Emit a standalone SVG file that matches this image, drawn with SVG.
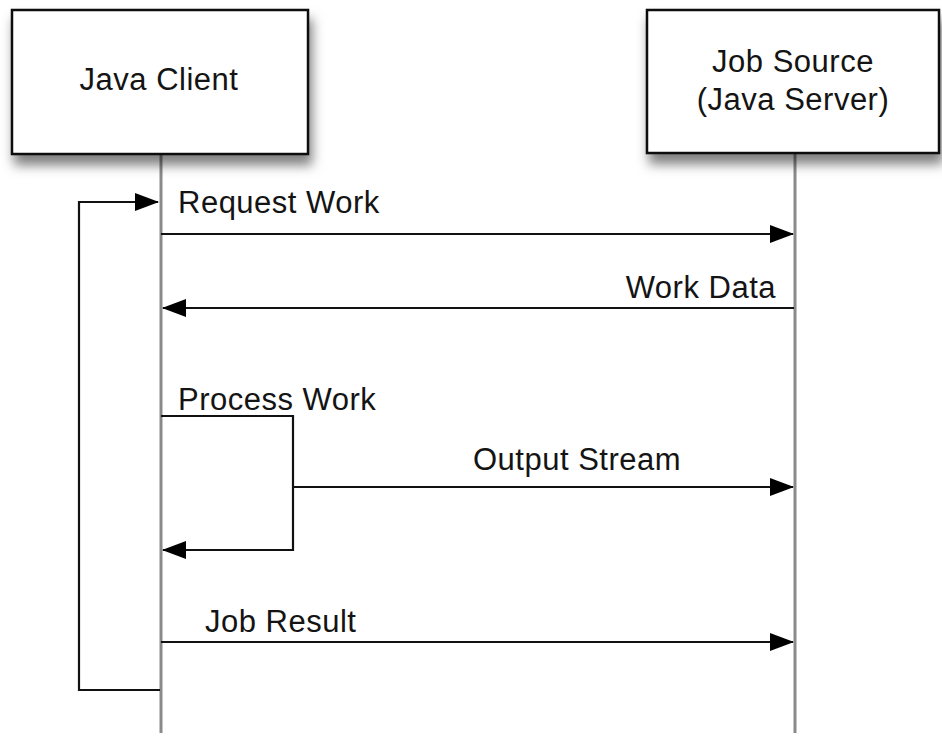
<svg xmlns="http://www.w3.org/2000/svg" width="942" height="737" viewBox="0 0 942 737">
  <defs>
    <filter id="shadow" x="-10%" y="-10%" width="130%" height="140%">
      <feDropShadow dx="3" dy="10" stdDeviation="6" flood-color="#000" flood-opacity="0.5"/>
    </filter>
    <marker id="arrow" viewBox="0 0 24 20" refX="23" refY="10" markerWidth="24" markerHeight="20" markerUnits="userSpaceOnUse" orient="auto">
      <path d="M0,1 L24,10 L0,19 Z" fill="#000"/>
    </marker>
  </defs>
  <style>
    .box { fill: #fff; stroke: #111; stroke-width: 2.5; }
    .life { stroke: #8a8a8a; stroke-width: 3; fill: none; }
    .msg { stroke: #111; stroke-width: 2.2; fill: none; }
    .arr { marker-end: url(#arrow); }
    text { font-family: "Liberation Sans", Arial, sans-serif; font-size: 31px; letter-spacing: 0.5px; fill: #141414; }
    .mid { text-anchor: middle; }
    .end { text-anchor: end; }
  </style>

  <rect width="942" height="737" fill="#fff"/>

  <!-- lifelines -->
  <g id="lifelines">
    <line class="life" x1="161" y1="154" x2="161" y2="733"/>
    <line class="life" x1="795" y1="153" x2="795" y2="733"/>
  </g>

  <!-- participants -->
  <g id="java-client">
    <rect class="box" x="12" y="10" width="296" height="144" filter="url(#shadow)"/>
    <text class="mid" x="159" y="90">Java Client</text>
  </g>
  <g id="job-source">
    <rect class="box" x="647" y="10" width="292" height="143" filter="url(#shadow)"/>
    <text class="mid" x="793" y="72">Job Source</text>
    <text class="mid" x="793" y="110">(Java Server)</text>
  </g>

  <!-- messages -->
  <g id="connectors">
    <path class="msg arr" d="M160,690 H79 V202 H158"/>
    <path class="msg arr" d="M161,234 H793"/>
    <path class="msg arr" d="M794,308 H163"/>
    <path class="msg arr" d="M161,416 H293 V550 H163"/>
    <path class="msg arr" d="M293,487 H793"/>
    <path class="msg arr" d="M161,642 H793"/>
  </g>

  <g id="labels">
    <text x="178" y="213">Request Work</text>
    <text class="end" x="776" y="298">Work Data</text>
    <text x="178" y="410">Process Work</text>
    <text class="mid" x="577" y="470">Output Stream</text>
    <text x="205" y="632">Job Result</text>
  </g>
</svg>
